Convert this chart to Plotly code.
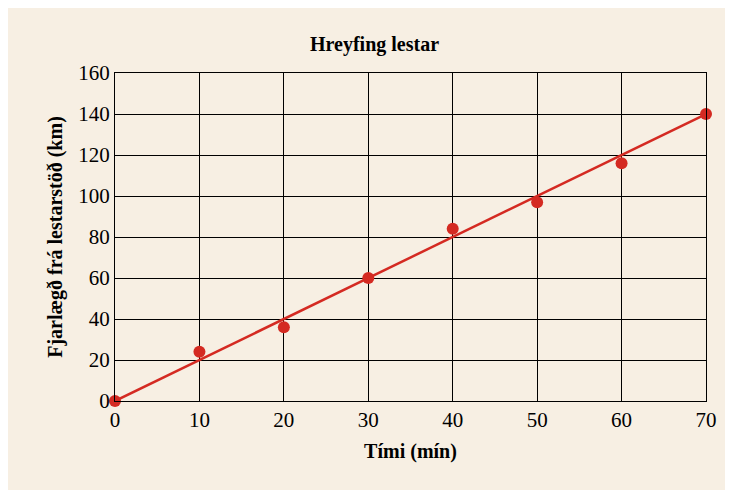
import plotly.graph_objects as go

times = [0, 10, 20, 30, 40, 50, 60, 70]
distances = [0, 24, 36, 60, 84, 97, 116, 140]
fit_x = [0, 70]
fit_y = [0, 140]

fig = go.Figure()
fig.add_trace(go.Scatter(x=fit_x, y=fit_y, mode="lines",
                         line=dict(color="#d42a22", width=2.5), showlegend=False))
fig.add_trace(go.Scatter(x=times, y=distances, mode="markers",
                         marker=dict(color="#d42a22", size=12), showlegend=False, cliponaxis=False))
font = dict(family="Liberation Serif", color="black", size=21)
fig.update_layout(
    width=733, height=490,
    margin=dict(l=107, r=35, t=65, b=97),
    paper_bgcolor="#f7efe3", plot_bgcolor="#f7efe3",
    font=font,
    title=dict(text="<b>Hreyfing lestar</b>", x=0.5, xanchor="center", y=0.94, font=dict(size=20)),
)
fig.update_xaxes(range=[0, 70], dtick=10, showgrid=True, gridcolor="black", gridwidth=1,
                 showline=True, linecolor="black", linewidth=1, mirror=True, zeroline=False,
                 ticks="", tickfont=dict(size=21),
                 title=dict(text="<b>Tími (mín)</b>", font=dict(size=20), standoff=12))
fig.update_yaxes(range=[0, 160], dtick=20, showgrid=True, gridcolor="black", gridwidth=1,
                 showline=True, linecolor="black", linewidth=1, mirror=True, zeroline=False,
                 ticks="", tickfont=dict(size=21),
                 title=dict(text="<b>Fjarlægð frá lestarstöð (km)</b>", font=dict(size=20), standoff=10))
fig.write_html("out.html")
